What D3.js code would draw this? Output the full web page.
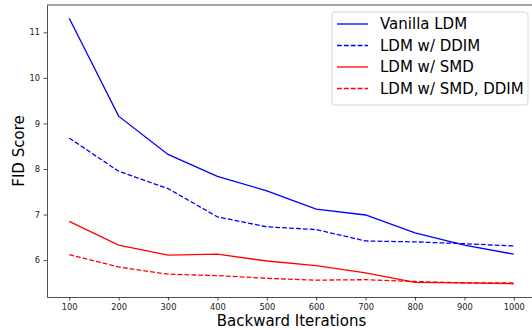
<!DOCTYPE html>
<html>
<head>
<meta charset="utf-8">
<script src="https://cdn.jsdelivr.net/npm/d3@7"></script>
<style>
  body { margin: 0; background: #fff; }
  svg { display: block; }
</style>
</head>
<body>
<div id="chart"></div>
<script>
// data
const iterations = [100, 200, 300, 400, 500, 600, 700, 800, 900, 1000];
const vanillaLdm = [11.31, 9.16, 8.32, 7.84, 7.52, 7.12, 6.99, 6.60, 6.33, 6.13];
const ldmDdim = [8.68, 7.95, 7.57, 6.95, 6.73, 6.67, 6.42, 6.40, 6.36, 6.31];
const ldmSmd = [6.85, 6.33, 6.11, 6.13, 5.98, 5.88, 5.72, 5.51, 5.50, 5.48];
const ldmSmdDdim = [6.12, 5.85, 5.69, 5.66, 5.60, 5.56, 5.57, 5.53, 5.50, 5.50];
const xTicks = [100, 200, 300, 400, 500, 600, 700, 800, 900, 1000];
const yTicks = [6, 7, 8, 9, 10, 11];

const series = [
  { name: "Vanilla LDM", values: vanillaLdm, color: "#0000ff", dashed: false },
  { name: "LDM w/ DDIM", values: ldmDdim, color: "#0000ff", dashed: true },
  { name: "LDM w/ SMD", values: ldmSmd, color: "#ff0000", dashed: false },
  { name: "LDM w/ SMD, DDIM", values: ldmSmdDdim, color: "#ff0000", dashed: true }
];

const W = 532, H = 330;
const margin = { top: 5, right: -4, bottom: 33, left: 47 };
const width = W - margin.left - margin.right;
const height = H - margin.top - margin.bottom;
const FONT = "DejaVu Sans";

const svg = d3.select("#chart").append("svg")
  .attr("width", W)
  .attr("height", H);

const g = svg.append("g")
  .attr("transform", `translate(${margin.left},${margin.top})`);

// matplotlib style 5% margins
const x = d3.scaleLinear().domain([55, 1045]).range([0, width]);
const y = d3.scaleLinear().domain([5.19, 11.6]).range([height, 0]);

// axes
const xAxis = g.append("g")
  .attr("transform", `translate(0,${height})`)
  .call(d3.axisBottom(x).tickValues(xTicks).tickFormat(d3.format("d")).tickSize(3.5).tickPadding(3.5).tickSizeOuter(0));
const yAxis = g.append("g")
  .call(d3.axisLeft(y).tickValues(yTicks).tickFormat(d3.format("d")).tickSize(3.5).tickPadding(3.5).tickSizeOuter(0));

[xAxis, yAxis].forEach(a => {
  a.attr("font-family", FONT).attr("font-size", 8.3);
  a.selectAll("text").attr("fill", "#222");
  a.selectAll("line").attr("stroke", "#222").attr("stroke-width", 0.8);
  a.select(".domain").attr("stroke", "#222").attr("stroke-width", 0.8);
});

// top and right spines
g.append("line")
  .attr("x1", 0).attr("x2", width)
  .attr("y1", 0).attr("y2", 0)
  .attr("stroke", "#222").attr("stroke-width", 0.8);
g.append("line")
  .attr("x1", width).attr("x2", width)
  .attr("y1", 0).attr("y2", height)
  .attr("stroke", "#222").attr("stroke-width", 0.8);

// lines
const line = d3.line()
  .x((d, i) => x(iterations[i]))
  .y(d => y(d));

series.forEach(s => {
  g.append("path")
    .datum(s.values)
    .attr("fill", "none")
    .attr("stroke", s.color)
    .attr("stroke-width", 1.3)
    .attr("stroke-dasharray", s.dashed ? "4.8,2.1" : null)
    .attr("d", line);
});

// axis labels
svg.append("text")
  .attr("x", margin.left + x(550))
  .attr("y", 326)
  .attr("text-anchor", "middle")
  .attr("font-family", FONT)
  .attr("font-size", 15)
  .text("Backward Iterations");

svg.append("text")
  .attr("transform", `translate(24,${margin.top + height / 2}) rotate(-90)`)
  .attr("text-anchor", "middle")
  .attr("font-family", FONT)
  .attr("font-size", 15)
  .text("FID Score");

// legend
const legend = svg.append("g").attr("transform", "translate(332,12)");
legend.append("rect")
  .attr("width", 196).attr("height", 93)
  .attr("rx", 3)
  .attr("fill", "#fff").attr("fill-opacity", 0.8)
  .attr("stroke", "#ccc").attr("stroke-width", 0.8);

series.forEach((s, i) => {
  const ly = 12 + i * 21.5;
  legend.append("line")
    .attr("x1", 5).attr("x2", 36)
    .attr("y1", ly).attr("y2", ly)
    .attr("stroke", s.color)
    .attr("stroke-width", 1.3)
    .attr("stroke-dasharray", s.dashed ? "4.8,2.1" : null);
  legend.append("text")
    .attr("x", 48).attr("y", ly)
    .attr("dy", "0.35em")
    .attr("font-family", FONT)
    .attr("font-size", 15)
    .text(s.name);
});
</script>
</body>
</html>
